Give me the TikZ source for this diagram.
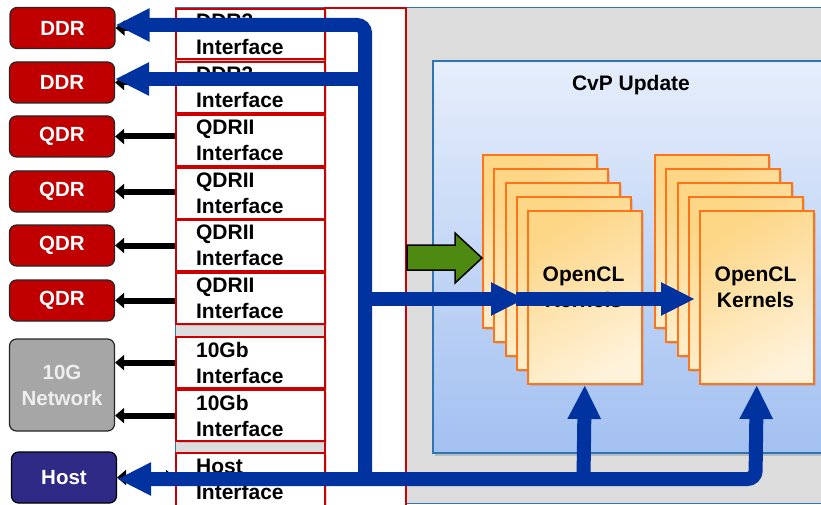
\documentclass[tikz,border=0pt]{standalone}
\usepackage{fontspec}
\setmainfont{Liberation Sans}
\usetikzlibrary{arrows.meta,shadows,calc}
\definecolor{ddrred}{HTML}{C00000}
\definecolor{ifred}{HTML}{CC0000}
\definecolor{netgray}{HTML}{A6A6A6}
\definecolor{nettext}{HTML}{EEEEEE}
\definecolor{hostblue}{HTML}{2E2A86}
\definecolor{bigblue}{HTML}{0033A0}
\definecolor{boxgray}{HTML}{DCDCDC}
\definecolor{frameblue}{HTML}{2E75B6}
\definecolor{cvptop}{HTML}{E6EEFB}
\definecolor{cvpbot}{HTML}{A2C0F1}
\definecolor{ktop}{HTML}{FDD686}
\definecolor{kbot}{HTML}{FFF2DA}
\definecolor{korange}{HTML}{FF7418}
\definecolor{arrgreen}{HTML}{4E8A12}
\tikzset{
  iface/.style={draw=ifred, line width=2.2pt, fill=white, minimum width=149pt,
    minimum height=51pt, text width=109pt, inner xsep=20pt, inner ysep=0pt,
    align=left, anchor=north west, font=\bfseries\fontsize{21}{26}\selectfont,
    drop shadow={shadow xshift=2pt, shadow yshift=-2pt, opacity=.3}},
  lbox/.style={rounded corners=7pt, draw=black!85, line width=1.2pt,
    minimum width=105pt, text=white, align=center, inner sep=0pt,
    font=\bfseries\fontsize{20.5}{26}\selectfont},
  ddrbox/.style={lbox, fill=ddrred, minimum height=41pt},
  kbox/.style={draw=korange, line width=2pt, minimum width=113.5pt,
    minimum height=173pt, anchor=north west, top color=ktop, bottom color=kbot,
    shading angle=30, drop shadow={shadow xshift=2pt, shadow yshift=-2pt, opacity=.25}},
  ktext/.style={align=center, font=\bfseries\fontsize{21}{26}\selectfont},
  blk/.style={line width=6pt, >={Triangle[length=9pt,width=15pt]}},
  bline/.style={draw=bigblue, line width=14pt, >={Triangle[length=34pt,width=31pt]}}
}
\begin{document}
\begin{tikzpicture}[x=1pt,y=-1pt]
\useasboundingbox (0,0) rectangle (821,505);
\fill[white] (0,0) rectangle (821,505);
% outer gray box
\draw[fill=boxgray, draw=frameblue, line width=1pt] (175,8) rectangle (840,503);
% white column
\draw[fill=white, draw=ifred, line width=1.5pt] (325,8) rectangle (406,520);
% CvP box
\path[drop shadow={shadow xshift=2pt, shadow yshift=-3pt, opacity=.35}]
  (433,61) rectangle (840,453);
\draw[top color=cvptop, bottom color=cvpbot, draw=frameblue, line width=1.5pt]
  (433,61) rectangle (840,453);
\node[font=\bfseries\fontsize{21}{26}\selectfont] (cvp) at (631,85) {CvP Update};
% interfaces
\node[iface, minimum height=50pt] (i1) at (175,8) {DDR3\\Interface};
\node[iface] (i2) at (175,61) {DDR3\\Interface};
\node[iface] (i3) at (175,114) {QDRII\\Interface};
\node[iface] (i4) at (175,167) {QDRII\\Interface};
\node[iface] (i5) at (175,219) {QDRII\\Interface};
\node[iface] (i6) at (175,272) {QDRII\\Interface};
\node[iface] (i7) at (175,336) {10Gb\\Interface};
\node[iface] (i8) at (175,389) {10Gb\\Interface};
\node[iface, minimum height=53pt] (i9) at (175,452) {Host\\Interface};
% kernel stacks
\node[kbox] (k1a) at (482,154) {};
\node[kbox] (k1b) at (493,168) {};
\node[kbox] (k1c) at (505,182) {};
\node[kbox] (k1d) at (516,196) {};
\node[kbox] (k1e) at (527,210) {};
\node[kbox] (k2a) at (654,154) {};
\node[kbox] (k2b) at (665,168) {};
\node[kbox] (k2c) at (677,182) {};
\node[kbox] (k2d) at (688,196) {};
\node[kbox] (k2e) at (699,210) {};
\node[ktext] (t1) at (583.5,287.5) {OpenCL\\Kernels};
\node[ktext] (t2) at (755.5,287.5) {OpenCL\\Kernels};
% green arrow
\draw[fill=arrgreen, draw=black, line width=1.5pt]
  (407,245) -- (455,245) -- (455,233) -- (482,258) -- (455,283) -- (455,270) -- (407,270) -- cycle;
% left boxes
\node[ddrbox] (ddr1) at (62.5,28) {DDR};
\node[ddrbox] (ddr2) at (62,82.5) {DDR};
\node[ddrbox] (qdr1) at (62,136.5) {QDR};
\node[ddrbox] (qdr2) at (62,191.5) {QDR};
\node[ddrbox] (qdr3) at (62,245.5) {QDR};
\node[ddrbox] (qdr4) at (62,300.5) {QDR};
\node[lbox, fill=netgray, text=nettext, minimum height=92pt] (net) at (62,385) {10G\\Network};
\node[lbox, fill=hostblue, minimum height=51pt, draw=black] (host) at (64,477.5) {Host};
% black arrows
\draw[blk, ->] (i1.west |- ddr1) -- (ddr1.east);
\draw[blk, ->] (i2.west |- ddr2) -- (ddr2.east);
\draw[blk, ->] (i3.west |- qdr1) -- (qdr1.east);
\draw[blk, ->] (i4.west |- qdr2) -- (qdr2.east);
\draw[blk, ->] (i5.west |- qdr3) -- (qdr3.east);
\draw[blk, ->] (i6.west |- qdr4) -- (qdr4.east);
\draw[blk, ->] (i7.west) -- (net.east |- i7.west);
\draw[blk, ->] (i8.west) -- (net.east |- i8.west);
\draw[blk, <->] (i9.west |- host) -- (host.east);
% blue paths
\coordinate (vt) at (365,25);
\coordinate (v2) at (365,79);
\coordinate (vm) at (365,299);
\coordinate (vb) at (365,479);
\coordinate (hb1) at (583.5,479);
\coordinate (hb2) at (755.5,479);
\draw[bline, <-, rounded corners=8pt] (ddr1.east |- vt) -- (vt) -- (vb);
\draw[bline, <-] (ddr2.east |- v2) -- (v2);
\draw[bline, ->, shorten >=2pt] (vm) -- (k1e.west |- vm);
\draw[bline, ->, shorten >=4pt] (k1d.west |- vm) -- (k2e.west |- vm);
\draw[bline, <->, rounded corners=8pt] (host.east |- vb) -- (hb2) -- (k2e.south);
\draw[bline, ->] (hb1) -- (k1e.south);
\end{tikzpicture}
\end{document}
